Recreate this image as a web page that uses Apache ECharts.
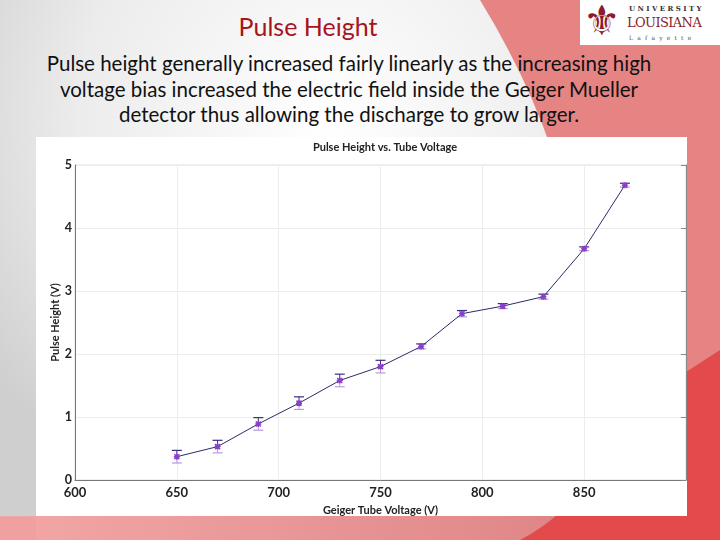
<!DOCTYPE html>
<html>
<head>
<meta charset="utf-8">
<script src="https://cdn.jsdelivr.net/npm/echarts@6/dist/echarts.min.js"></script>
<style>
  html, body { margin: 0; padding: 0; }
  body { width: 720px; height: 540px; position: relative; overflow: hidden; font-family: Lato, "Open Sans", sans-serif; }
  #bg { position: absolute; left: 0; top: 0; }
  .slide-title { position: absolute; left: 0; width: 616px; top: 11px; text-align: center; color: #a8141c; font-size: 25px; }
  .slide-text { position: absolute; left: 0; width: 698px; top: 51px; text-align: center; color: #111; font-size: 20.5px; line-height: 25.5px; white-space: nowrap; }
  .logo { position: absolute; left: 580px; top: 0; width: 140px; height: 45px; background: #fff; }
  .logo .fleur { position: absolute; left: 3px; top: -4px; font-size: 42px; color: #8a1c2c; font-family: "DejaVu Sans"; }
  .logo .u { position: absolute; left: 49px; top: 4px; font-size: 7px; letter-spacing: 2.4px; color: #333; font-family: "DejaVu Serif"; font-weight: bold; }
  .logo .l { position: absolute; left: 47px; top: 15px; font-size: 13px; color: #8a1c2c; font-family: "DejaVu Serif"; letter-spacing: -0.6px; }
  .logo .f { position: absolute; left: 49px; top: 34px; font-size: 6px; letter-spacing: 4.2px; color: #555; font-family: "DejaVu Serif"; }
  #chart { position: absolute; left: 36px; top: 137px; width: 651px; height: 379px; background: #fff; }
</style>
</head>
<body>
<svg id="bg" width="720" height="540">
  <defs>
    <radialGradient id="g1" cx="330" cy="120" r="420" gradientUnits="userSpaceOnUse">
      <stop offset="0" stop-color="#ffffff"/>
      <stop offset="0.6" stop-color="#ececec"/>
      <stop offset="1" stop-color="#cfcfcf"/>
    </radialGradient>
    <linearGradient id="g2" x1="0" y1="0" x2="1" y2="0">
      <stop offset="0" stop-color="#f2a7a7"/>
      <stop offset="0.7" stop-color="#e28a8a"/>
      <stop offset="1" stop-color="#d87474"/>
    </linearGradient>
  </defs>
  <rect width="720" height="540" fill="url(#g1)"/>
  <path d="M480,0 L720,0 L720,540 L560,540 Q640,260 480,0 Z" fill="#e68484"/>
  <rect x="0" y="516" width="720" height="24" fill="url(#g2)"/>
  <path d="M0,517 L36,517 L36,540 L0,540 Z" fill="#f0a0a0"/>
  <path d="M686,372 L720,350 L720,540 L520,540 Q560,520 600,470 L686,372 Z" fill="#e24a4c"/>
</svg>

<div class="slide-title">Pulse Height</div>
<div class="slide-text">Pulse height generally increased fairly linearly as the increasing high<br>voltage bias increased the electric field inside the Geiger Mueller<br>detector thus allowing the discharge to grow larger.</div>
<div class="logo">
  <div class="fleur">⚜</div>
  <div class="u">UNIVERSITY</div>
  <div class="l">LOUISIANA</div>
  <div class="f">Lafayette</div>
</div>
<div id="chart"></div>

<script>
// tube voltage (V)
const voltages = [650, 670, 690, 710, 730, 750, 770, 790, 810, 830, 850, 870];
// pulse height (V)
const heights = [0.37, 0.53, 0.89, 1.22, 1.58, 1.80, 2.12, 2.64, 2.76, 2.91, 3.67, 4.68];
// error (+/- V)
const errors = [0.10, 0.10, 0.10, 0.10, 0.10, 0.10, 0.04, 0.05, 0.04, 0.04, 0.03, 0.03];

const xTicks = [600, 650, 700, 750, 800, 850];

const chart = echarts.init(document.getElementById('chart'));

const points = voltages.map((v, i) => [v, heights[i]]);
const errData = voltages.map((v, i) => [v, heights[i] - errors[i], heights[i] + errors[i], heights[i]]);

const labelStyle = { color: '#222', fontSize: 13, fontWeight: 'bold', fontFamily: 'Lato' };

chart.setOption({
  animation: false,
  title: {
    text: 'Pulse Height vs. Tube Voltage',
    left: 344, top: 0, textAlign: 'center',
    textStyle: { fontSize: 11, fontWeight: 'bold', color: '#222', fontFamily: 'Lato' }
  },
  grid: {
    left: 39, right: 1, top: 28, bottom: 36, outerBoundsMode: 'none',
    show: true, borderColor: '#e0e0e0', borderWidth: 1
  },
  xAxis: {
    type: 'value', min: 600, max: 900, interval: 50,
    name: 'Geiger Tube Voltage (V)', nameLocation: 'middle', nameGap: 25, nameMoveOverlap: false,
    nameTextStyle: { fontSize: 11, fontWeight: 'bold', color: '#222', fontFamily: 'Lato' },
    axisLine: { show: true, lineStyle: { color: '#777' } },
    axisTick: { show: false },
    axisLabel: Object.assign({ margin: 6, formatter: v => xTicks.includes(v) ? String(v) : '' }, labelStyle),
    splitLine: { show: true, lineStyle: { color: '#ececec' } }
  },
  yAxis: [{
    type: 'value', min: 0, max: 5, interval: 1,
    name: 'Pulse Height (V)', nameLocation: 'middle', nameGap: 14, nameMoveOverlap: false,
    nameTextStyle: { fontSize: 11, fontWeight: 'bold', color: '#222', fontFamily: 'Lato' },
    axisLine: { show: true, lineStyle: { color: '#777' } },
    axisTick: { show: false },
    axisLabel: Object.assign({ margin: 3 }, labelStyle, { fontSize: 12.5 }),
    splitLine: { show: true, lineStyle: { color: '#ececec' } }
  }, {
    type: 'value', min: 0, max: 5, interval: 1, position: 'right',
    axisLine: { show: true, lineStyle: { color: '#888' } },
    axisTick: { show: true, inside: true, length: 5, lineStyle: { color: '#888' } },
    axisLabel: { show: false },
    splitLine: { show: false }
  }],
  series: [{
    type: 'custom',
    data: errData,
    z: 3,
    renderItem: function (params, api) {
      const x = api.value(0);
      const lo = api.coord([x, api.value(1)]);
      const hi = api.coord([x, api.value(2)]);
      const mid = api.coord([x, api.value(3)]);
      const w = 5;
      return {
        type: 'group',
        children: [
          { type: 'line', shape: { x1: hi[0], y1: hi[1], x2: mid[0], y2: mid[1] }, style: { stroke: '#3b2c82', lineWidth: 1 } },
          { type: 'line', shape: { x1: mid[0], y1: mid[1], x2: lo[0], y2: lo[1] }, style: { stroke: '#b99ae0', lineWidth: 1 } },
          { type: 'line', shape: { x1: hi[0] - w, y1: hi[1], x2: hi[0] + w, y2: hi[1] }, style: { stroke: '#3b2c82', lineWidth: 1.2 } },
          { type: 'line', shape: { x1: lo[0] - w, y1: lo[1], x2: lo[0] + w, y2: lo[1] }, style: { stroke: '#b99ae0', lineWidth: 1.2 } }
        ]
      };
    }
  }, {
    type: 'line',
    data: points,
    z: 4,
    symbol: 'path://M0,0 L10,10 M10,0 L0,10 M5,-1 L5,11 M-1,5 L11,5',
    symbolSize: 6,
    itemStyle: { color: '#9a4fd0', borderColor: '#8a3fc8', borderWidth: 1.5 },
    lineStyle: { color: '#2c2a6c', width: 1 }
  }]
});
</script>
</body>
</html>
